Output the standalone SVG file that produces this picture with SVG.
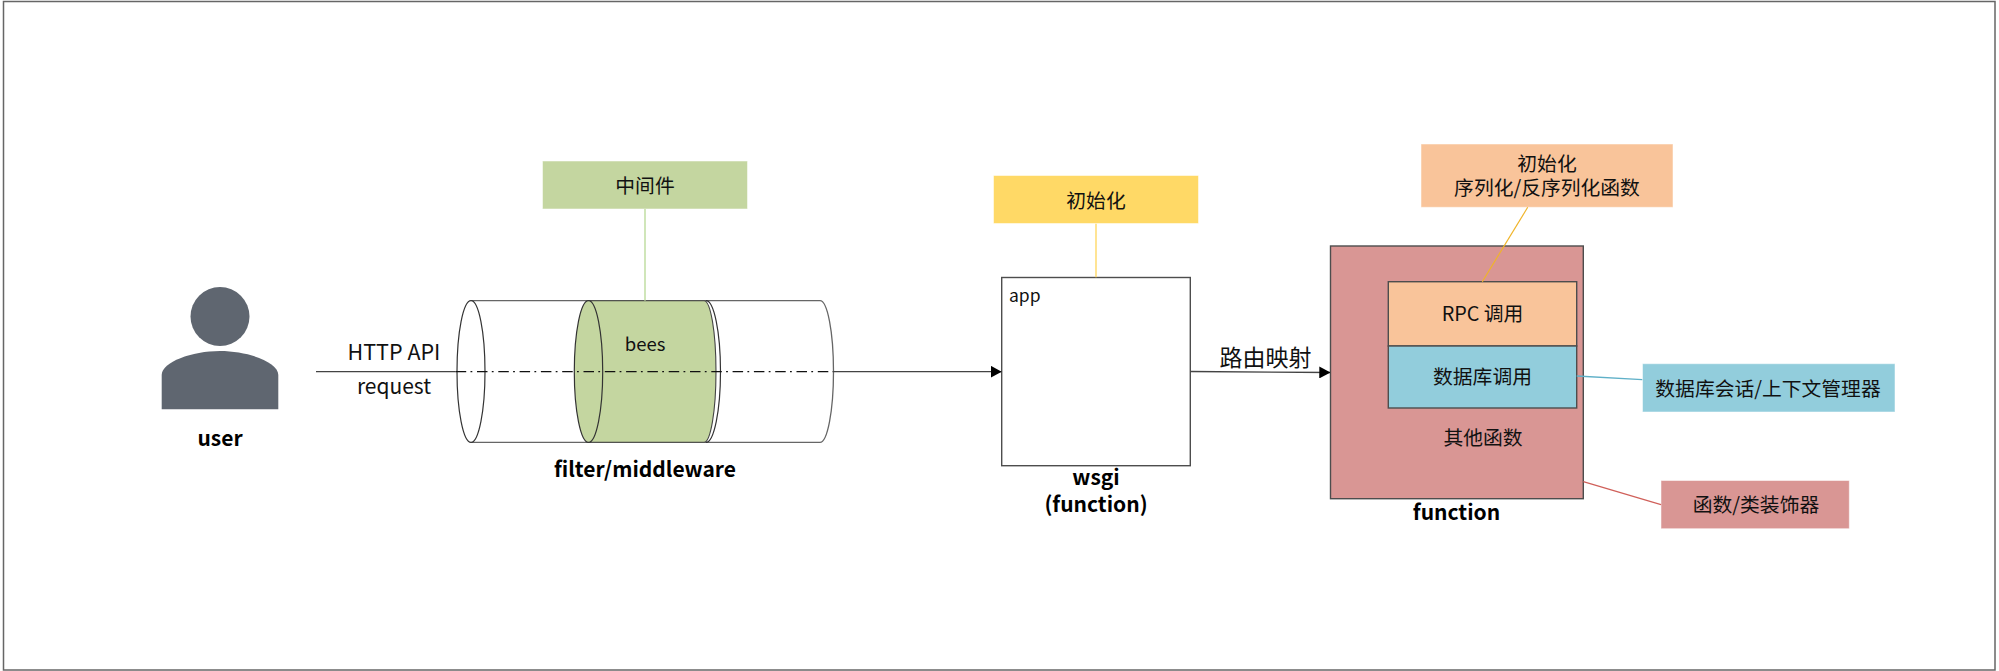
<svg xmlns="http://www.w3.org/2000/svg" width="1999" height="671" viewBox="0 0 1999 671">
<style>
text{font-family:"Noto Sans CJK SC","Noto Sans",sans-serif;fill:#111;text-anchor:middle;font-size:19.8px}
.b{font-weight:700;font-size:21px;fill:#000}
.box{stroke:#4d4d4d;stroke-width:1.4}
.ol{fill:none;stroke:#333;stroke-width:1.2}
.edge{fill:none;stroke:#444;stroke-width:1.3}
.note{stroke-width:1;stroke-opacity:.5;stroke:#fff}
</style>
<defs>
<marker id="ah" markerUnits="userSpaceOnUse" markerWidth="11" markerHeight="12" refX="11" refY="6" orient="auto"><path d="M0 0L11 6L0 12Z" fill="#000"/></marker>
</defs>
<rect id="frame" x="3.5" y="1.5" width="1991.5" height="668.5" fill="#fff" stroke="#666" stroke-width="1.5"/>
<g id="user">
<circle cx="220" cy="316.5" r="29.5" fill="#5f6670"/>
<path d="M161.7 409.3V375C161.7 362 192 351 220 351C248 351 278.3 362 278.3 375V409.3Z" fill="#5f6670"/>
<text class="b" x="220" y="445.5">user</text>
</g>
<g id="filter-middleware">
<path d="M471 300.7H820A13.5 70.8 0 0 1 820 442.3H471" fill="#fff" stroke="#666" stroke-width="1.3"/>
<ellipse cx="471" cy="371.5" rx="14" ry="70.8" fill="#fff" stroke="#333" stroke-width="1.2"/>
<path class="ol" d="M706 300.7A14.5 70.8 0 0 1 706 442.3"/>
<path d="M588.5 300.7H704A12 70.8 0 0 1 704 442.3H588.5" fill="#c4d6a0" stroke="#444" stroke-width="1.1"/>
<ellipse cx="588.5" cy="371.5" rx="14.2" ry="70.8" fill="#c4d6a0" stroke="#333" stroke-width="1.2"/>
<text x="645" y="351" style="font-size:18.5px">bees</text>
<text class="b" x="645" y="477">filter/middleware</text>
</g>
<g id="note-middleware">
<rect class="note" x="542.5" y="161" width="205" height="48" fill="#c4d6a0"/>
<text x="645" y="192.5">中间件</text>
</g>
<g id="wsgi">
<rect class="box" x="1001.7" y="277.5" width="188.6" height="188.2" fill="#fff"/>
<text x="1009" y="302" style="font-size:17.5px;text-anchor:start">app</text>
<text class="b" x="1096" y="485">wsgi</text>
<text class="b" x="1096" y="512">(function)</text>
</g>
<g id="note-init">
<rect class="note" x="993.5" y="175.5" width="205" height="48" fill="#ffd966"/>
<text x="1096" y="207.5">初始化</text>
</g>
<g id="function">
<rect class="box" x="1330.5" y="246" width="252.8" height="252.7" fill="#d99694"/>
<text x="1483" y="445">其他函数</text>
<text class="b" x="1456.5" y="519.5">function</text>
</g>
<g id="rpc">
<rect class="box" x="1388.3" y="281.7" width="188.4" height="64.3" fill="#f9c49a"/>
<text x="1482.5" y="321">RPC 调用</text>
</g>
<g id="db">
<rect class="box" x="1388.3" y="346" width="188.4" height="62" fill="#92cddc"/>
<text x="1482.5" y="384">数据库调用</text>
</g>
<g id="note-serialize">
<rect class="note" x="1421" y="144" width="252" height="63.3" fill="#f9c49a"/>
<text x="1547" y="171">初始化<tspan x="1547" dy="24">序列化/反序列化函数</tspan></text>
</g>
<g id="note-session">
<rect class="note" x="1642.5" y="363.7" width="252.5" height="48.3" fill="#92cddc"/>
<text x="1768" y="396">数据库会话/上下文管理器</text>
</g>
<g id="note-decorator">
<rect class="note" x="1661" y="480.5" width="188.3" height="48.2" fill="#d99694"/>
<text x="1756" y="511.5">函数/类装饰器</text>
</g>
<g id="connectors">
<path class="edge" d="M316 371.7H455.7"/>
<path d="M455.7 371.7H833" fill="none" stroke="#111" stroke-width="1.3" stroke-dasharray="10.5 4.3 1.8 4.7"/>
<path class="edge" d="M833 371.7H1001.7" marker-end="url(#ah)"/>
<path class="edge" d="M1190.3 371.5L1330.3 372.5" marker-end="url(#ah)"/>
<path d="M645 209V300.7" fill="none" stroke="#bcdc9c" stroke-width="1.4"/>
<path d="M1096 223.7V277.3" fill="none" stroke="#ffd966" stroke-width="1.4"/>
<path d="M1527.7 207.3L1482.3 281.7" fill="none" stroke="#f0b429" stroke-width="1.2"/>
<path d="M1576.7 376L1642.3 379.7" fill="none" stroke="#5fb0c8" stroke-width="1.3"/>
<path d="M1583.3 481.7L1661 504.7" fill="none" stroke="#d0605a" stroke-width="1.2"/>
</g>
<g id="edge-labels">
<text x="394" y="360" style="font-size:21.5px">HTTP API</text>
<text x="394" y="394" style="font-size:21px">request</text>
<text x="1265.5" y="366" style="font-size:23px">路由映射</text>
</g>
</svg>
